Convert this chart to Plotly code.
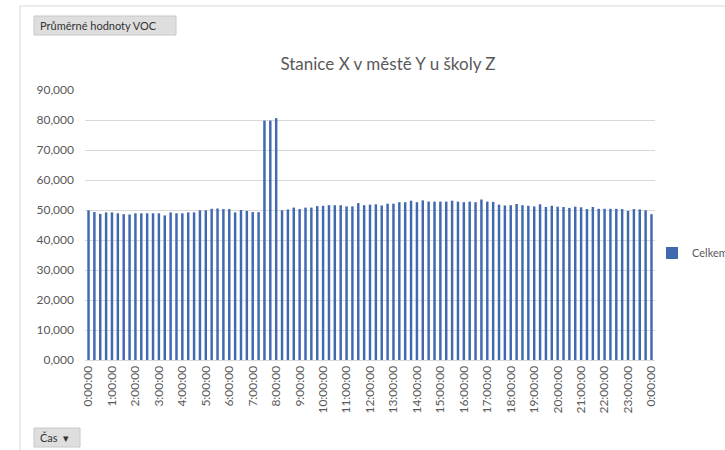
import plotly.graph_objects as go

# 15-minute time categories (0:00:00 ... 23:45:00, then 0:00:00 of next day)
times = [f"{h}:{m:02d}:00" for h in range(24) for m in (0, 15, 30, 45)] + ["0:00:00"]

# Average VOC values ("Celkem")
celkem = [
    49.9, 49.3, 48.7, 49.2, 49.2, 48.9, 48.6, 48.5, 48.9, 48.9, 48.9, 48.9, 48.9,
    48.2, 49.2, 48.9, 48.9, 49.2, 49.2, 49.9, 49.9, 50.4, 50.5, 50.3, 50.3, 49.2,
    50.0, 49.7, 49.3, 49.3, 79.8, 79.8, 80.6,
    49.9, 50.2, 50.8, 50.3, 50.8, 50.8, 51.3, 51.4, 51.6, 51.6, 51.6, 51.2, 51.2,
    52.3, 51.6, 51.8, 51.9, 51.5, 52.1, 52.1, 52.6, 52.6, 53.1, 52.6, 53.2, 52.8,
    52.8, 52.8, 52.8, 53.1, 52.8, 52.6, 52.8, 52.6, 53.5, 52.8, 52.7, 51.8, 51.5,
    51.6, 52.0, 51.6, 51.4, 51.2, 51.9, 51.0, 51.4, 51.1, 51.0, 50.7, 51.1, 50.9,
    50.3, 51.0, 50.4, 50.4, 50.4, 50.4, 50.3, 49.7, 50.3, 50.2, 49.9, 48.6,
]

series_name = "Celkem"
title_text = "Stanice X v městě Y u školy Z"
y_ticks = [0, 10, 20, 30, 40, 50, 60, 70, 80, 90]

xpos = list(range(len(times)))
tick_every = 4

FONT = "Lato, 'Noto Sans', sans-serif"
GREY = "#595959"

fig = go.Figure()
fig.add_trace(go.Bar(
    x=xpos, y=celkem, name=series_name,
    marker=dict(color="#4069B0", line=dict(width=0)),
    showlegend=True,
))

W, H = 725, 450
L, R, T, B = 85, 70, 90, 90
pw = W - L - R
ph = H - T - B

def px_x(p):
    return (p - L) / pw

def px_y(p):
    return (H - B - p) / ph

fig.update_layout(
    width=W, height=H,
    margin=dict(l=L, r=R, t=T, b=B, autoexpand=False),
    paper_bgcolor="white", plot_bgcolor="white",
    font=dict(family=FONT, color=GREY, size=12),
    separators=", ",
    bargap=0.58,
    title=dict(text=title_text, x=388 / W, xref="container", xanchor="center",
               y=1 - 64 / H, yref="container", yanchor="middle",
               font=dict(size=17, color=GREY, family=FONT)),
    xaxis=dict(
        range=[-0.6, len(times) - 0.4], automargin=False,
        tickmode="array", tickvals=xpos[::tick_every], ticktext=times[::tick_every],
        tickangle=-90, tickfont=dict(size=12, color=GREY),
        showgrid=False, showline=True, linecolor="#d9d9d9", linewidth=1,
        ticks="", zeroline=False,
    ),
    yaxis=dict(
        range=[0, 90], tickmode="array", tickvals=y_ticks, tickformat=".3f",
        tickfont=dict(size=12, color=GREY), automargin=False,
        showgrid=True, gridcolor="#d9d9d9", gridwidth=1,
        zeroline=False, showline=False, ticks="", ticklabelstandoff=10,
    ),
    legend=dict(x=px_x(652), y=px_y(253), xanchor="left", yanchor="middle",
                font=dict(size=11, color=GREY), itemwidth=30,
                bgcolor="rgba(0,0,0,0)"),
)

# outer chart frame
fig.add_shape(type="rect", xref="paper", yref="paper",
              x0=px_x(20), x1=px_x(740), y0=px_y(470), y1=px_y(6),
              line=dict(color="#d9d9d9", width=1), fillcolor="rgba(0,0,0,0)",
              layer="below")

# field buttons
fig.add_shape(type="rect", xref="paper", yref="paper",
              x0=px_x(34), x1=px_x(176), y0=px_y(35), y1=px_y(16),
              line=dict(color="#c8c8c8", width=1), fillcolor="#dedede")
fig.add_annotation(text="Průměrné hodnoty VOC", xref="paper", yref="paper",
                   x=px_x(38), y=px_y(25.5), xanchor="left", yanchor="middle",
                   showarrow=False, font=dict(size=11, color="#333333", family=FONT))

fig.add_shape(type="rect", xref="paper", yref="paper",
              x0=px_x(34), x1=px_x(80), y0=px_y(447), y1=px_y(428),
              line=dict(color="#c8c8c8", width=1), fillcolor="#dedede")
fig.add_annotation(text="Čas  ▾", xref="paper", yref="paper",
                   x=px_x(38), y=px_y(437.5), xanchor="left", yanchor="middle",
                   showarrow=False, font=dict(size=11, color="#333333", family=FONT))

fig.write_html("out.html", config={"displayModeBar": False},
               post_script="document.body.style.margin='0';")
